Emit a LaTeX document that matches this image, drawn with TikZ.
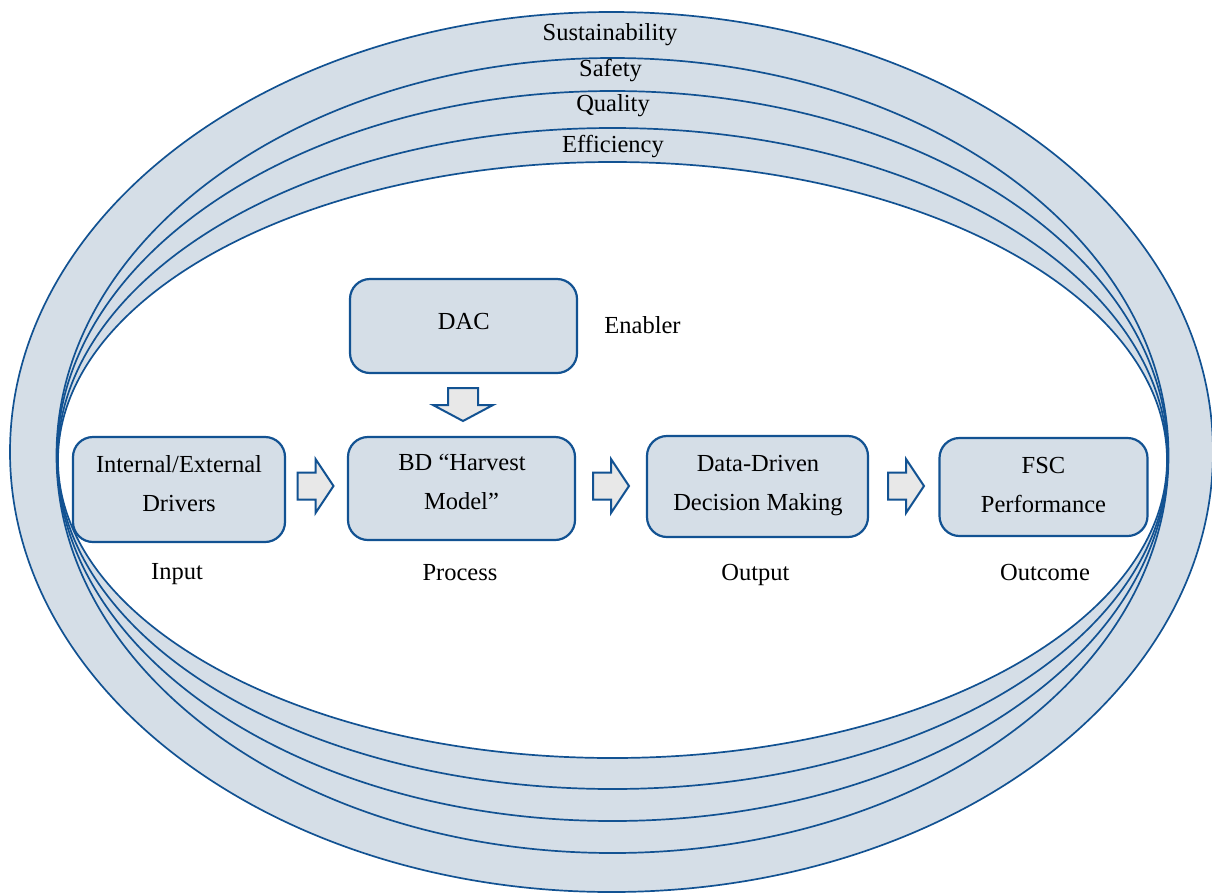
\documentclass[tikz,border=0pt]{standalone}
\usepackage{fontspec}
\setmainfont{Liberation Serif}
\usetikzlibrary{calc}
\definecolor{lineblue}{RGB}{18,82,146}
\definecolor{ringfill}{RGB}{213,222,231}
\definecolor{arrowfill}{RGB}{232,232,232}
\tikzset{
  ring/.style={draw=lineblue,line width=1.7pt,fill=ringfill},
  innerring/.style={draw=lineblue,line width=1.7pt,fill=white},
  box/.style={draw=lineblue,line width=2.2pt,fill=ringfill,rounded corners=20pt,inner sep=0pt},
  txt/.style={font=\fontsize{24.5}{29}\selectfont,inner sep=0pt,anchor=base},
  barrow/.style={draw=lineblue,line width=2pt,fill=arrowfill,line join=miter},
  rblock/.pic={\path[barrow] (-18,-13.5) -- (0,-13.5) -- (0,-27) -- (18,0) -- (0,27) -- (0,13.5) -- (-18,13.5) -- cycle;}
}
\begin{document}
\begin{tikzpicture}[x=1pt,y=-1pt]
\useasboundingbox (0,0) rectangle (1212,892);
% rings
\path[ring] (611.5,452) ellipse [x radius=601.5, y radius=440];
\path[ring] (612.5,455.5) ellipse [x radius=556, y radius=397.5];
\path[ring] (612.5,456) ellipse [x radius=555.5, y radius=365];
\path[ring] (612.5,458.5) ellipse [x radius=555, y radius=330.5];
\path[innerring] (612.5,460) ellipse [x radius=554.5, y radius=298];
% ring labels
\node[txt] (sust) at (610,40) {Sustainability};
\node[txt] (safe) at (610.5,76) {Safety};
\node[txt] (qual) at (613,111) {Quality};
\node[txt] (effi) at (613,152) {Efficiency};
% boxes
\node[box,minimum width=227pt,minimum height=94pt] (dac) at (463.5,326) {};
\node[box,minimum width=212pt,minimum height=105pt] (drivers) at (179,489.5) {};
\node[box,minimum width=227pt,minimum height=103pt] (bd) at (461.5,488.5) {};
\node[box,minimum width=221pt,minimum height=101pt] (ddd) at (757.5,486.5) {};
\node[box,minimum width=208pt,minimum height=98pt] (fsc) at (1043.5,487) {};
% box texts
\node[txt] (dact) at (463.8,329) {DAC};
\node[txt] (drv1) at (179,472) {Internal/External};
\node[txt] (drv2) at (179,511) {Drivers};
\node[txt] (bd1) at (462,470) {BD “Harvest};
\node[txt] (bd2) at (461.5,509) {Model”};
\node[txt] (dd1) at (758,471) {Data-Driven};
\node[txt] (dd2) at (758,510) {Decision Making};
\node[txt] (fsc1) at (1043.5,473) {FSC};
\node[txt] (fsc2) at (1043.5,512) {Performance};
% side labels
\node[txt] (enab) at (642.5,333) {Enabler};
\node[txt] (inp) at (177,579) {Input};
\node[txt] (proc) at (460,580) {Process};
\node[txt] (outp) at (755.5,580) {Output};
\node[txt] (outc) at (1045,580) {Outcome};
% block arrows
\pic at (315.5,486) {rblock};
\pic at (611,486) {rblock};
\pic at (906,486) {rblock};
\path[barrow] (448,388) -- (478,388) -- (478,405) -- (493,405) -- (463,421) -- (433,405) -- (448,405) -- cycle;
\end{tikzpicture}
\end{document}
